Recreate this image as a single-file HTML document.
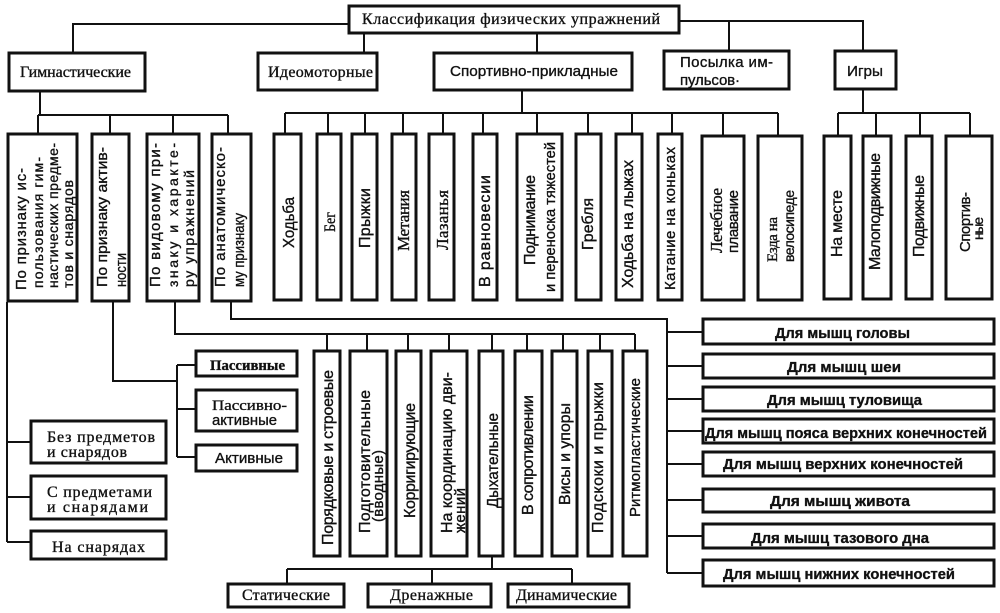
<!DOCTYPE html>
<html><head><meta charset="utf-8"><style>
html,body{margin:0;padding:0;background:#fff;}
svg{display:block;}
text{font-family:"Liberation Sans",sans-serif;fill:#111;stroke:#111;stroke-width:0.35;}
.s{font-family:"Liberation Serif",serif;}
</style></head><body>
<svg width="1000" height="613" viewBox="0 0 1000 613" xmlns="http://www.w3.org/2000/svg">
<rect width="1000" height="613" fill="#fff"/>
<g fill="none" stroke="#111" stroke-width="2">
<polyline points="73,52 73,24 348,24"/>
<polyline points="680,21 863,21 863,50"/>
<line x1="729" y1="21" x2="729" y2="50"/>
<line x1="364" y1="33" x2="364" y2="52"/>
<line x1="537" y1="33" x2="537" y2="52"/>
<line x1="40" y1="92" x2="40" y2="115"/>
<line x1="38" y1="115" x2="228" y2="115"/>
<line x1="38" y1="115" x2="38" y2="133"/>
<line x1="110" y1="115" x2="110" y2="133"/>
<line x1="173" y1="115" x2="173" y2="133"/>
<line x1="228" y1="115" x2="228" y2="133"/>
<line x1="522" y1="91" x2="522" y2="113"/>
<line x1="285" y1="113" x2="778" y2="113"/>
<line x1="285" y1="113" x2="285" y2="133"/>
<line x1="328" y1="113" x2="328" y2="133"/>
<line x1="365" y1="113" x2="365" y2="133"/>
<line x1="403" y1="113" x2="403" y2="133"/>
<line x1="443" y1="113" x2="443" y2="133"/>
<line x1="483" y1="113" x2="483" y2="133"/>
<line x1="537" y1="113" x2="537" y2="133"/>
<line x1="588" y1="113" x2="588" y2="133"/>
<line x1="632" y1="113" x2="632" y2="133"/>
<line x1="672" y1="113" x2="672" y2="133"/>
<line x1="723" y1="113" x2="723" y2="135"/>
<line x1="778" y1="113" x2="778" y2="135"/>
<line x1="863" y1="90" x2="863" y2="113"/>
<line x1="838" y1="113" x2="970" y2="113"/>
<line x1="838" y1="113" x2="838" y2="135"/>
<line x1="876" y1="113" x2="876" y2="135"/>
<line x1="920" y1="113" x2="920" y2="135"/>
<line x1="970" y1="113" x2="970" y2="135"/>
<line x1="7" y1="302" x2="7" y2="542"/>
<line x1="7" y1="442" x2="30" y2="442"/>
<line x1="7" y1="497" x2="30" y2="497"/>
<line x1="7" y1="542" x2="30" y2="542"/>
<polyline points="113,302 113,381 177,381"/>
<line x1="177" y1="365" x2="177" y2="457"/>
<line x1="177" y1="365" x2="195" y2="365"/>
<line x1="177" y1="409" x2="195" y2="409"/>
<line x1="177" y1="457" x2="195" y2="457"/>
<polyline points="175,302 175,334 635,334"/>
<line x1="327" y1="334" x2="327" y2="350"/>
<line x1="367" y1="334" x2="367" y2="350"/>
<line x1="408" y1="334" x2="408" y2="350"/>
<line x1="449" y1="334" x2="449" y2="350"/>
<line x1="492" y1="334" x2="492" y2="350"/>
<line x1="527" y1="334" x2="527" y2="350"/>
<line x1="563" y1="334" x2="563" y2="350"/>
<line x1="600" y1="334" x2="600" y2="350"/>
<line x1="635" y1="334" x2="635" y2="350"/>
<polyline points="231,302 231,319 667,319 667,573"/>
<line x1="667" y1="332" x2="702" y2="332"/>
<line x1="667" y1="366" x2="702" y2="366"/>
<line x1="667" y1="399" x2="702" y2="399"/>
<line x1="667" y1="431" x2="702" y2="431"/>
<line x1="667" y1="464" x2="702" y2="464"/>
<line x1="667" y1="500" x2="702" y2="500"/>
<line x1="667" y1="536" x2="702" y2="536"/>
<line x1="667" y1="573" x2="702" y2="573"/>
<line x1="492" y1="557" x2="492" y2="569"/>
<line x1="287" y1="569" x2="572" y2="569"/>
<line x1="287" y1="569" x2="287" y2="583"/>
<line x1="432" y1="569" x2="432" y2="583"/>
<line x1="572" y1="569" x2="572" y2="583"/>
</g>
<g fill="#fff" stroke="#111" stroke-width="3">
<rect x="349" y="6" width="330" height="27"/>
<rect x="9" y="53" width="136" height="38"/>
<rect x="258" y="53" width="119" height="37"/>
<rect x="434" y="53" width="198" height="37"/>
<rect x="664" y="51" width="125" height="38"/>
<rect x="835" y="51" width="61" height="38"/>
<rect x="8" y="134" width="69" height="167"/>
<rect x="92" y="134" width="37" height="167"/>
<rect x="147" y="134" width="52" height="167"/>
<rect x="212" y="134" width="39" height="167"/>
<rect x="274" y="134" width="27" height="166"/>
<rect x="317" y="134" width="24" height="166"/>
<rect x="352" y="134" width="25" height="166"/>
<rect x="392" y="134" width="24" height="166"/>
<rect x="429" y="134" width="25" height="166"/>
<rect x="473" y="134" width="24" height="166"/>
<rect x="517" y="134" width="45" height="166"/>
<rect x="576" y="134" width="25" height="166"/>
<rect x="616" y="134" width="26" height="166"/>
<rect x="658" y="134" width="24" height="166"/>
<rect x="702" y="136" width="42" height="164"/>
<rect x="758" y="136" width="44" height="164"/>
<rect x="824" y="136" width="27" height="163"/>
<rect x="863" y="136" width="28" height="163"/>
<rect x="906" y="136" width="26" height="163"/>
<rect x="946" y="136" width="46" height="163"/>
<rect x="314" y="351" width="26" height="205"/>
<rect x="350" y="351" width="37" height="205"/>
<rect x="396" y="351" width="25" height="205"/>
<rect x="431" y="351" width="36" height="205"/>
<rect x="479" y="351" width="24" height="205"/>
<rect x="515" y="351" width="27" height="205"/>
<rect x="552" y="351" width="25" height="205"/>
<rect x="588" y="351" width="24" height="205"/>
<rect x="623" y="351" width="24" height="205"/>
<rect x="196" y="351" width="101" height="25"/>
<rect x="196" y="390" width="101" height="41"/>
<rect x="196" y="445" width="101" height="26"/>
<rect x="31" y="421" width="135" height="42"/>
<rect x="31" y="476" width="135" height="43"/>
<rect x="31" y="531" width="135" height="28"/>
<rect x="228" y="584" width="116" height="23"/>
<rect x="368" y="584" width="123" height="23"/>
<rect x="508" y="584" width="121" height="23"/>
<rect x="703" y="319" width="291" height="25"/>
<rect x="703" y="354" width="291" height="24"/>
<rect x="703" y="387" width="291" height="24"/>
<rect x="703" y="419" width="291" height="24"/>
<rect x="703" y="452" width="291" height="24"/>
<rect x="703" y="489" width="291" height="23"/>
<rect x="703" y="524" width="291" height="24"/>
<rect x="703" y="560" width="291" height="26"/>
</g>
<g font-size="15">
<text class="s" x="362" y="24" textLength="298" lengthAdjust="spacing" font-size="16">Классификация физических упражнений</text>
<text class="s" x="20" y="77" textLength="111" lengthAdjust="spacing" font-size="16">Гимнастические</text>
<text class="s" x="268" y="77" textLength="105" lengthAdjust="spacing" font-size="16">Идеомоторные</text>
<text x="450" y="76" textLength="168" lengthAdjust="spacingAndGlyphs">Спортивно-прикладные</text>
<text x="680" y="67" textLength="93" lengthAdjust="spacing">Посылка им-</text>
<text x="680" y="85" textLength="60" lengthAdjust="spacing">пульсов·</text>
<text x="847" y="76" textLength="36" lengthAdjust="spacingAndGlyphs">Игры</text>

<text class="s" x="210" y="370" textLength="75" lengthAdjust="spacingAndGlyphs" font-weight="bold">Пассивные</text>
<text class="s" x="212" y="410" textLength="75" lengthAdjust="spacingAndGlyphs">Пассивно-</text>
<text x="212" y="425" textLength="65" lengthAdjust="spacingAndGlyphs">активные</text>
<text x="215" y="463" textLength="68" lengthAdjust="spacingAndGlyphs">Активные</text>
<text class="s" x="47" y="442" textLength="108" lengthAdjust="spacing" font-size="16">Без предметов</text>
<text class="s" x="47" y="457" textLength="80" lengthAdjust="spacing" font-size="16">и снарядов</text>
<text class="s" x="47" y="497" textLength="105" lengthAdjust="spacing" font-size="16">С предметами</text>
<text class="s" x="47" y="512" textLength="101" lengthAdjust="spacing" font-size="16">и снарядами</text>
<text class="s" x="52" y="552" textLength="93" lengthAdjust="spacing" font-size="16">На снарядах</text>
<text class="s" x="242" y="600" textLength="88" lengthAdjust="spacing" font-size="16">Статические</text>
<text class="s" x="390" y="600" textLength="83" lengthAdjust="spacing" font-size="16">Дренажные</text>
<text class="s" x="516" y="600" textLength="101" lengthAdjust="spacing" font-size="16">Динамические</text>

<text x="775" y="338" textLength="135" lengthAdjust="spacingAndGlyphs" font-weight="bold">Для мышц головы</text>
<text x="787" y="372" textLength="114" lengthAdjust="spacingAndGlyphs" font-weight="bold">Для мышц шеи</text>
<text x="767" y="405" textLength="155" lengthAdjust="spacingAndGlyphs" font-weight="bold">Для мышц туловища</text>
<text x="705" y="438" textLength="282" lengthAdjust="spacingAndGlyphs" font-weight="bold">Для мышц пояса верхних конечностей</text>
<text x="723" y="469" textLength="240" lengthAdjust="spacingAndGlyphs" font-weight="bold">Для мышц верхних конечностей</text>
<text x="770" y="506" textLength="140" lengthAdjust="spacingAndGlyphs" font-weight="bold">Для мышц живота</text>
<text x="751" y="543" textLength="178" lengthAdjust="spacingAndGlyphs" font-weight="bold">Для мышц тазового дна</text>
<text x="723" y="579" textLength="232" lengthAdjust="spacingAndGlyphs" font-weight="bold">Для мышц нижних конечностей</text>
</g>
<g font-size="14">
<text transform="translate(26,290) rotate(-90)" textLength="122" lengthAdjust="spacing" font-size="15">По признаку ис-</text>
<text transform="translate(43,288) rotate(-90)" textLength="131" lengthAdjust="spacing">пользования гим-</text>
<text transform="translate(58,288) rotate(-90)" textLength="145" lengthAdjust="spacing">настических предме-</text>
<text transform="translate(73,288) rotate(-90)" textLength="108" lengthAdjust="spacing">тов и снарядов</text>
<text transform="translate(107,287) rotate(-90)" textLength="140" lengthAdjust="spacingAndGlyphs" font-size="15">По признаку актив-</text>
<text transform="translate(126,287) rotate(-90)" textLength="34" lengthAdjust="spacingAndGlyphs" font-size="15">ности</text>
<text transform="translate(160,287) rotate(-90)" textLength="144" lengthAdjust="spacing" font-size="15">По видовому при-</text>
<text transform="translate(178,287) rotate(-90)" textLength="144" lengthAdjust="spacing">знаку и характе-</text>
<text transform="translate(194,287) rotate(-90)" textLength="117" lengthAdjust="spacing">ру упражнений</text>
<text transform="translate(225,287) rotate(-90)" textLength="140" lengthAdjust="spacing" font-size="15">По анатомическо-</text>
<text transform="translate(244,287) rotate(-90)" textLength="74" lengthAdjust="spacingAndGlyphs" font-size="15">му признаку</text>

<text transform="translate(294,248) rotate(-90)" textLength="51" lengthAdjust="spacingAndGlyphs" font-size="16">Ходьба</text>
<text class="s" transform="translate(335,232) rotate(-90)" textLength="20" lengthAdjust="spacingAndGlyphs" font-size="16">Бег</text>
<text transform="translate(370,248) rotate(-90)" textLength="60" lengthAdjust="spacing" font-size="16">Прыжки</text>
<text class="s" transform="translate(409,251) rotate(-90)" textLength="61" lengthAdjust="spacing" font-size="17">Метания</text>
<text class="s" transform="translate(448,250) rotate(-90)" textLength="60" lengthAdjust="spacing" font-size="17">Лазанья</text>
<text transform="translate(490,287) rotate(-90)" textLength="112" lengthAdjust="spacing" font-size="16">В равновесии</text>
<text transform="translate(535,265) rotate(-90)" textLength="90" lengthAdjust="spacing" font-size="16">Поднимание</text>
<text transform="translate(555,292) rotate(-90)" textLength="150" lengthAdjust="spacingAndGlyphs" font-size="15">и переноска тяжестей</text>
<text transform="translate(593,250) rotate(-90)" textLength="52" lengthAdjust="spacing" font-size="16">Гребля</text>
<text transform="translate(633,288) rotate(-90)" textLength="128" lengthAdjust="spacing" font-size="16">Ходьба на лыжах</text>
<text transform="translate(675,290) rotate(-90)" textLength="143" lengthAdjust="spacing" font-size="15">Катание на коньках</text>
<text class="s" transform="translate(722,253) rotate(-90)" textLength="65" lengthAdjust="spacing" font-size="17">Лечебное</text>
<text transform="translate(738,253) rotate(-90)" textLength="63" lengthAdjust="spacing" font-size="15">плавание</text>
<text class="s" transform="translate(777,262) rotate(-90)" textLength="45" lengthAdjust="spacing" font-size="15">Езда на</text>
<text transform="translate(794,262) rotate(-90)" textLength="72" lengthAdjust="spacing" font-size="14">велосипеде</text>
<text transform="translate(842,257) rotate(-90)" textLength="67" lengthAdjust="spacing" font-size="16">На месте</text>
<text transform="translate(880,270) rotate(-90)" textLength="117" lengthAdjust="spacing" font-size="16">Малоподвижные</text>
<text transform="translate(924,257) rotate(-90)" textLength="82" lengthAdjust="spacing" font-size="16">Подвижные</text>
<text transform="translate(970,252) rotate(-90)" textLength="60" lengthAdjust="spacing" font-size="15">Спортив-</text>
<text transform="translate(983,240) rotate(-90)" textLength="23" lengthAdjust="spacing" font-size="14">ные</text>

<text transform="translate(333,545) rotate(-90)" textLength="175" lengthAdjust="spacing" font-size="16">Порядковые и строевые</text>
<text transform="translate(370,533) rotate(-90)" textLength="143" lengthAdjust="spacing" font-size="16">Подготовительные</text>
<text transform="translate(383,522) rotate(-90)" textLength="72" lengthAdjust="spacing" font-size="15">(вводные)</text>
<text transform="translate(415,518) rotate(-90)" textLength="115" lengthAdjust="spacing" font-size="16">Корригирующие</text>
<text transform="translate(452,533) rotate(-90)" textLength="161" lengthAdjust="spacing" font-size="16">На координацию дви-</text>
<text transform="translate(465,533) rotate(-90)" textLength="45" lengthAdjust="spacing" font-size="15">жений</text>
<text transform="translate(498,508) rotate(-90)" textLength="95" lengthAdjust="spacingAndGlyphs" font-size="16">Дыхательные</text>
<text transform="translate(533,515) rotate(-90)" textLength="120" lengthAdjust="spacing" font-size="16">В сопротивлении</text>
<text transform="translate(570,505) rotate(-90)" textLength="102" lengthAdjust="spacing" font-size="16">Висы и упоры</text>
<text transform="translate(603,533) rotate(-90)" textLength="151" lengthAdjust="spacing" font-size="16">Подскоки и прыжки</text>
<text transform="translate(640,517) rotate(-90)" textLength="139" lengthAdjust="spacing" font-size="15">Ритмопластические</text>
</g>
</svg>
</body></html>
